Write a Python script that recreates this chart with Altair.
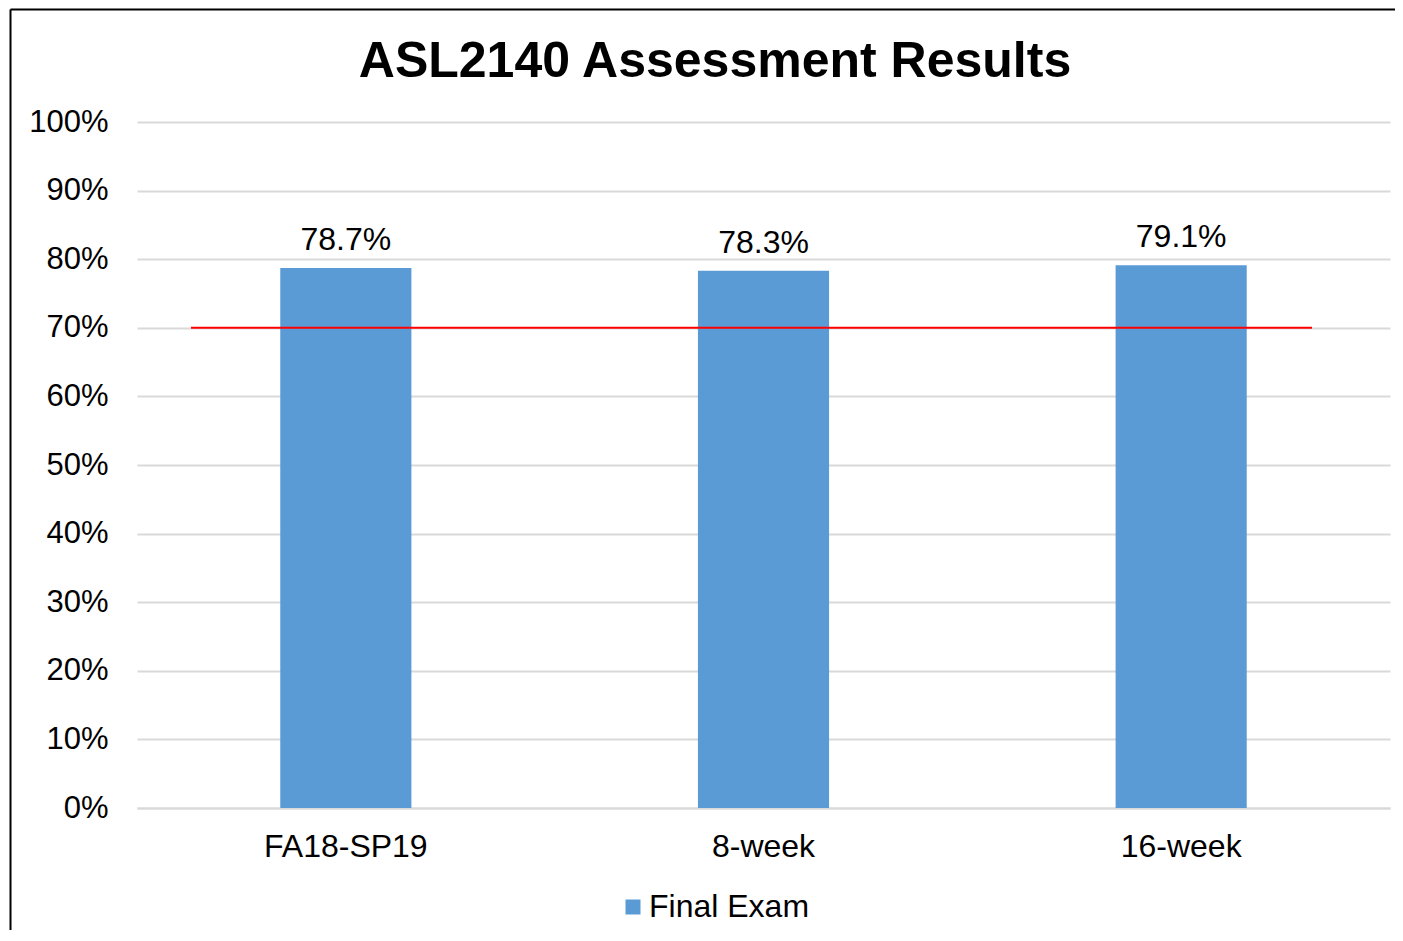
import altair as alt
import pandas as pd

categories = ["FA18-SP19", "8-week", "16-week"]
values = [0.787, 0.783, 0.791]
target = 0.70
series_name = "Final Exam"
title_text = "ASL2140 Assessment Results"

df = pd.DataFrame({"cat": categories, "val": values, "series": [series_name] * len(categories)})
tdf = pd.DataFrame({"t": [target]})
one = pd.DataFrame({"k": [0]})
ttl = pd.DataFrame({"title": [title_text]})

W, H = 1253, 686
FONT = "Liberation Sans, Arial, sans-serif"

x = alt.X("cat:N", sort=categories, title=None,
          scale=alt.Scale(paddingInner=0.686, paddingOuter=0.343),
          axis=alt.Axis(labelAngle=0, labelFontSize=32, labelFont=FONT, labelColor="#000",
                        ticks=False, labelPadding=23, domainColor="#d9d9d9", domainWidth=2,
                        grid=False))
y = alt.Y("val:Q", title=None,
          scale=alt.Scale(domain=[0, 1], nice=False),
          axis=alt.Axis(format=".0%", values=[i / 10 for i in range(11)], labelFontSize=31,
                        labelFont=FONT, labelColor="#000", ticks=False, domain=False,
                        labelPadding=29, gridColor="#d9d9d9", gridWidth=2))

bars = alt.Chart(df).mark_bar(color="#5b9bd5").encode(
    x=x, y=y,
    color=alt.Color("series:N", scale=alt.Scale(range=["#5b9bd5"]),
                    legend=alt.Legend(title=None, orient="none", legendX=480, legendY=769,
                                      symbolType="square", symbolSize=225, symbolStrokeWidth=0,
                                      labelFontSize=32, labelFont=FONT, labelColor="#000",
                                      labelOffset=0, labelLimit=400)),
)

labels = alt.Chart(df).mark_text(fontSize=32, font=FONT, color="#000", baseline="alphabetic", dy=-18).encode(
    x=alt.X("cat:N", sort=categories), y="val:Q", text=alt.Text("val:Q", format=".1%"))

target_rule = alt.Chart(tdf).mark_rule(color="#ff0000", strokeWidth=2).encode(
    y="t:Q", x=alt.value(54), x2=alt.value(1175))

frame_top = alt.Chart(one).mark_rule(color="#000", strokeWidth=2).encode(
    x=alt.value(-126.5), x2=alt.value(W + 40), y=alt.value(-112.5))
frame_left = alt.Chart(one).mark_rule(color="#000", strokeWidth=2).encode(
    x=alt.value(-126.5), y=alt.value(-112.5), y2=alt.value(H + 140))

title_mark = alt.Chart(ttl).mark_text(fontSize=50, font=FONT, fontWeight="bold", color="#000",
                                      baseline="alphabetic", align="center").encode(
    x=alt.value(578), y=alt.value(-45), text="title:N")

chart = alt.layer(bars, labels, target_rule, frame_top, frame_left, title_mark).properties(
    width=W, height=H,
    autosize=alt.AutoSizeParams(type="none"),
    padding={"left": 129, "top": 114, "right": 5, "bottom": 122},
).configure_view(stroke=None)

chart.save("out.html", embed_options={"renderer": "svg", "actions": False})
